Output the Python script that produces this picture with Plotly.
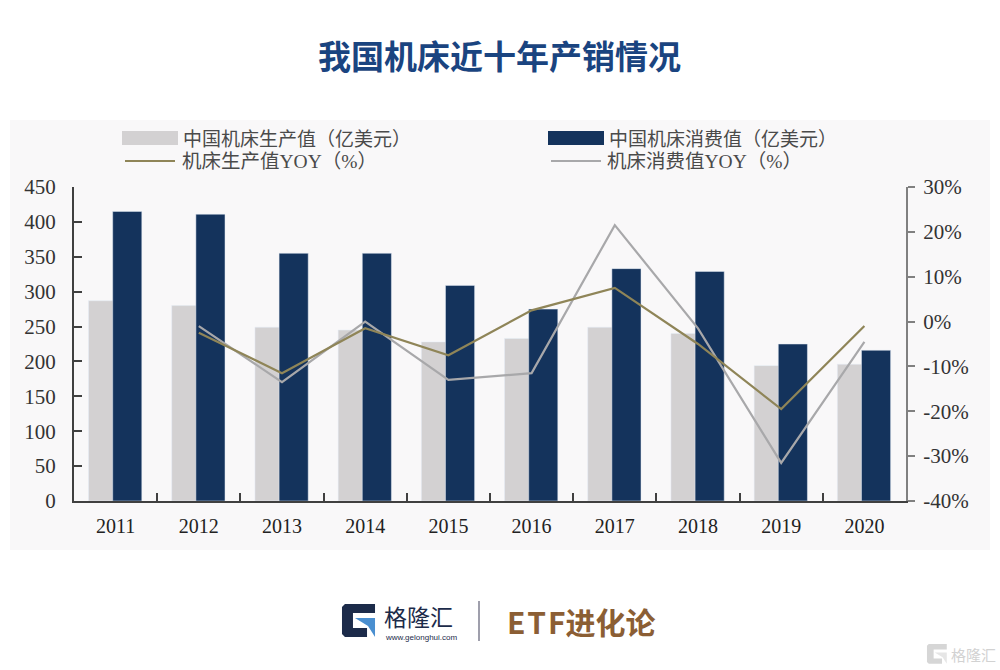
import plotly.graph_objects as go

# Values
years = ['2011', '2012', '2013', '2014', '2015', '2016', '2017', '2018', '2019', '2020']
output_value = [287, 280, 249, 245, 228, 233, 249, 240, 194, 196]
consumption_value = [415, 411, 355, 355, 309, 275, 333, 329, 225, 216]
output_yoy = [None, -2.5, -11.5, -1.5, -7.5, 2.5, 7.5, -5, -19.5, -1]
consumption_yoy = [None, -1, -13.5, 0, -13, -11.5, 21.5, -1.5, -31.5, -4.5]
pct_ticks = [-40, -30, -20, -10, 0, 10, 20, 30]
pct_labels = ['-40%', '-30%', '-20%', '-10%', '0%', '10%', '20%', '30%']

NAVY = '#14335c'
LIGHT = '#d3d1d2'
GOLD = '#8f8558'
GREY = '#a8a8aa'
CJK = 'Noto Sans CJK SC'
SERIF = 'Liberation Serif'
LEGEND_FONT = 'Liberation Serif, Noto Sans CJK SC'

# plot area in page pixels
LEFT, RIGHT, TOP, BOTTOM = 74, 906, 187, 501


def px(x):
    return (x - LEFT) / (RIGHT - LEFT)


def py(y):
    return (BOTTOM - y) / (BOTTOM - TOP)


def poly(points):
    return 'M' + ' L'.join(f'{px(x):.4f},{py(y):.4f}' for x, y in points) + ' Z'


def rect(x0, y0, x1, y1, color, layer='above'):
    return dict(type='rect', xref='paper', yref='paper', x0=px(x0), x1=px(x1), y0=py(y0), y1=py(y1),
                fillcolor=color, line_width=0, layer=layer)


def hline(x0, x1, y, color, width=2.2):
    return dict(type='line', xref='paper', yref='paper', x0=px(x0), x1=px(x1), y0=py(y), y1=py(y),
                line=dict(color=color, width=width))


def label(text, x, y, size, color, family=CJK, anchor='left'):
    return dict(text=text, xref='paper', yref='paper', x=px(x), y=py(y), showarrow=False,
                xanchor=anchor, yanchor='middle', font=dict(family=family, size=size, color=color))


def g_logo(x0, y0, scale, dark, light):
    s = scale
    outer = [(0, 3), (3, 0), (33, 0), (33, 9), (11, 9), (11, 24), (25, 24), (25, 33), (3, 33), (0, 30)]
    wedge = [(13, 14), (33, 14), (33, 33), (26, 22)]
    return [
        dict(type='path', xref='paper', yref='paper', path=poly([(x0 + a * s, y0 + b * s) for a, b in outer]),
             fillcolor=dark, line_width=0),
        dict(type='path', xref='paper', yref='paper', path=poly([(x0 + a * s, y0 + b * s) for a, b in wedge]),
             fillcolor=light, line_width=0),
    ]


fig = go.Figure()

# bars overlap a little, so place them by hand inside the category
fig.add_trace(go.Bar(x=years, y=output_value, name='中国机床生产值（亿美元）', marker_color=LIGHT,
                     width=0.35, offset=-0.325, showlegend=False))
fig.add_trace(go.Bar(x=years, y=consumption_value, name='中国机床消费值（亿美元）', marker_color=NAVY,
                     width=0.35, offset=-0.035, showlegend=False))

fig.add_trace(go.Scatter(x=years, y=consumption_yoy, name='机床消费值YOY（%）', mode='lines', yaxis='y2',
                         line=dict(color=GREY, width=2.2), showlegend=False))
fig.add_trace(go.Scatter(x=years, y=output_yoy, name='机床生产值YOY（%）', mode='lines', yaxis='y2',
                         line=dict(color=GOLD, width=2.2), showlegend=False))

shapes = [
    rect(10, 120, 990, 550, '#f9f8f9', layer='below'),
    rect(122, 131, 178, 145, LIGHT),
    rect(548, 131, 604, 145, NAVY),
    hline(125, 175, 161, GOLD),
    hline(551, 601, 161, GREY),
    dict(type='line', xref='paper', yref='paper', x0=px(479), x1=px(479), y0=py(601), y1=py(641),
         line=dict(color='#7f7f90', width=1.5)),
]
shapes += g_logo(342, 604, 1.0, '#1c2b4a', '#4a8fd0')
shapes += g_logo(927, 644, 0.6, '#d6d6d6', '#e6e6e6')

annotations = [
    label('<b>我国机床近十年产销情况</b>', 500, 55, 33, '#1a4480', anchor='center'),
    label('中国机床生产值（亿美元）', 181, 137, 19, '#4a4a4a'),
    label('中国机床消费值（亿美元）', 607, 137, 19, '#4a4a4a'),
    label('机床生产值YOY（%）', 180, 161, 19.5, '#4a4a4a', family=LEGEND_FONT),
    label('机床消费值YOY（%）', 605, 161, 19.5, '#4a4a4a', family=LEGEND_FONT),
    label('格隆汇', 382, 616, 23, '#1c2b4a'),
    label('www.gelonghui.com', 383, 637, 8, '#1c2b4a', family='Liberation Sans'),
    label('<b>E\u200aT\u200aF进化论</b>', 505, 621, 30, '#8b5e34'),
    label('格隆汇', 949, 654, 15, '#d2d2d2'),
]

fig.update_layout(
    width=1000,
    height=670,
    margin=dict(l=LEFT, r=1000 - RIGHT, t=TOP, b=670 - BOTTOM, pad=0),
    paper_bgcolor='#ffffff',
    plot_bgcolor='rgba(0,0,0,0)',
    barmode='overlay',
    font=dict(family=SERIF, color='#333333'),
    shapes=shapes,
    annotations=annotations,
    xaxis=dict(type='category', tickson='boundaries', ticks='inside', ticklen=8, tickwidth=1.5, tickcolor='#404040',
               showline=True, linecolor='#404040', linewidth=2, showgrid=False,
               tickfont=dict(size=20, color='#222222'), ticklabelstandoff=6),
    yaxis=dict(range=[0, 450], dtick=50, ticks='inside', ticklen=8, tickwidth=1.5, tickcolor='#404040',
               showline=True, linecolor='#404040', linewidth=2, showgrid=False, zeroline=False,
               tickfont=dict(size=21, color='#333333'), ticklabelstandoff=12),
    yaxis2=dict(range=[-40, 30], tickvals=pct_ticks, ticktext=pct_labels, overlaying='y', side='right',
                ticks='outside', ticklen=7, tickwidth=1.5, tickcolor='#808080',
                showline=True, linecolor='#808080', linewidth=2, showgrid=False, zeroline=False,
                tickfont=dict(size=21, color='#333333'), ticklabelstandoff=4),
)

# default page margin would push the figure 8px off
fig.write_html("out.html", post_script="document.body.style.margin='0';", config=dict(displayModeBar=False))
